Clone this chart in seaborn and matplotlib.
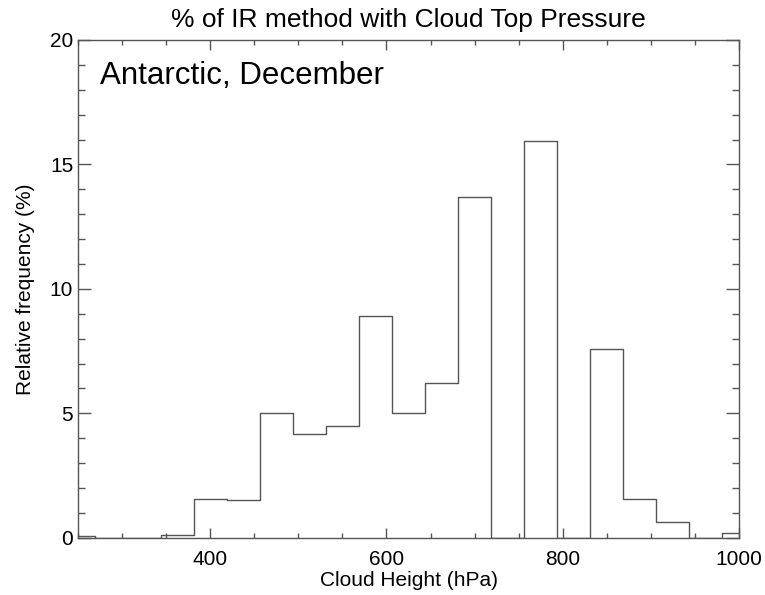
import numpy as np
import pandas as pd
import matplotlib
matplotlib.use("Agg")
import matplotlib.pyplot as plt
from matplotlib.ticker import MultipleLocator
import seaborn as sns

# Cloud-top pressure bins (hPa, bin centres) and relative frequency (%)
bin_centres = [250.0, 287.5, 325.0, 362.5, 400.0, 437.5, 475.0, 512.5, 550.0,
               587.5, 625.0, 662.5, 700.0, 737.5, 775.0, 812.5, 850.0, 887.5,
               925.0, 962.5, 1000.0]
rel_freq = [0.05, 0.0, 0.0, 0.1, 1.55, 1.5, 5.0, 4.15, 4.5,
            8.9, 5.0, 6.2, 13.7, 0.0, 15.95, 0.0, 7.6, 1.55,
            0.65, 0.0, 0.2]
bin_width = 37.5

title_text = "% of IR method with Cloud Top Pressure"
region_text = "Antarctic, December"
x_label = "Cloud Height (hPa)"
y_label = "Relative frequency (%)"

sns.set_theme(style="ticks")
plt.rcParams["font.family"] = ["Liberation Sans", "DejaVu Sans"]

df = pd.DataFrame({"pressure": bin_centres, "freq": rel_freq})
bin_range = (bin_centres[0] - bin_width / 2, bin_centres[-1] + bin_width / 2)

fig = plt.figure(figsize=(7.65, 5.95), dpi=100)
ax = fig.add_axes([0.102, 0.0963, 0.864, 0.8365])

line_col = "#555555"
sns.histplot(data=df, x="pressure", weights="freq", binwidth=bin_width,
             binrange=bin_range, element="step", fill=False,
             color=line_col, linewidth=1.0, ax=ax)

ax.set_xlim(250, 1000)
ax.set_ylim(0, 20)
ax.set_xticks([400, 600, 800, 1000])
ax.xaxis.set_minor_locator(MultipleLocator(50))
ax.yaxis.set_major_locator(MultipleLocator(5))
ax.yaxis.set_minor_locator(MultipleLocator(1))

for s in ax.spines.values():
    s.set_color(line_col)
    s.set_linewidth(1.0)

ax.tick_params(axis="x", which="major", direction="in", length=7.5, width=1,
               color=line_col, top=True, bottom=True, labelsize=15, pad=8.5,
               labelcolor="black")
ax.tick_params(axis="x", which="minor", direction="in", length=3.7, width=1,
               color=line_col, top=True, bottom=True)
ax.tick_params(axis="y", which="major", direction="in", length=9.5, width=1,
               color=line_col, left=True, right=True, labelsize=15, pad=3.5,
               labelcolor="black")
ax.tick_params(axis="y", which="minor", direction="in", length=4.8, width=1,
               color=line_col, left=True, right=True)

ax.set_xlabel(x_label, fontsize=15, labelpad=2, color="black")
ax.set_ylabel(y_label, fontsize=15, labelpad=11, color="black")
ax.set_title(title_text, fontsize=19, pad=9, color="black")

ax.text(0.033, 0.912, region_text, transform=ax.transAxes, fontsize=22.5,
        ha="left", va="baseline", color="black")

fig.savefig("out.png", dpi=100, facecolor="white")
